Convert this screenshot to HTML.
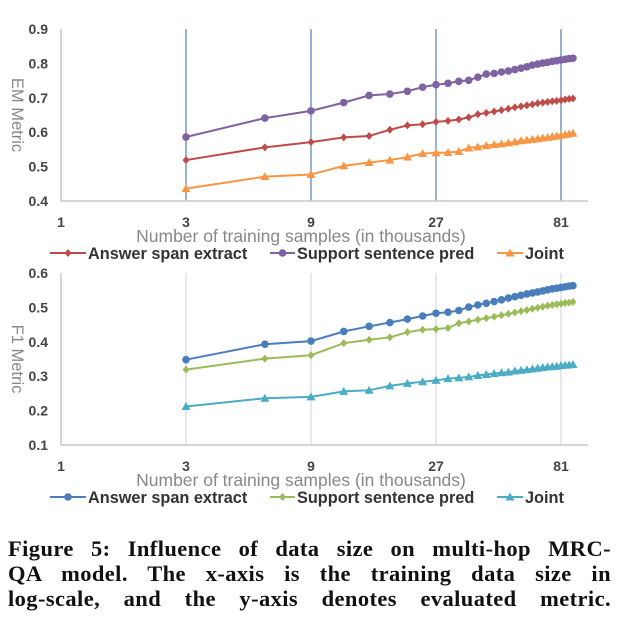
<!DOCTYPE html>
<html><head><meta charset="utf-8"><style>
body{margin:0;background:#fff;width:620px;height:625px;overflow:hidden}
svg{position:absolute;left:0;top:0}
.cap{position:absolute;left:8px;width:603px;font-family:"Liberation Serif",serif;font-weight:bold;font-size:22.5px;line-height:25px;text-align:justify;text-align-last:justify;color:#111;letter-spacing:0.4px}
</style></head><body>
<svg id="chart" width="620" height="525"></svg>
<div class="cap" style="top:536px">Figure 5: Influence of data size on multi-hop MRC-<br>QA model. The x-axis is the training data size in<br>log-scale, and the y-axis denotes evaluated metric.</div>
<script>
const xs=[3,6,9,12,15,18,21,24,27,30,33,36,39,42,45,48,51,54,57,60,63,66,69,72,75,78,81,84,87,90];
const xTicks=[1,3,9,27,81];
const emAnswer=[0.519,0.556,0.571,0.585,0.589,0.607,0.620,0.623,0.630,0.633,0.637,0.643,0.652,0.656,0.660,0.664,0.668,0.672,0.675,0.678,0.681,0.684,0.686,0.688,0.690,0.691,0.693,0.695,0.697,0.698];
const emSupport=[0.586,0.641,0.662,0.686,0.707,0.711,0.719,0.731,0.738,0.742,0.748,0.751,0.760,0.769,0.771,0.775,0.778,0.782,0.786,0.790,0.795,0.798,0.801,0.803,0.806,0.808,0.810,0.812,0.814,0.815];
const emJoint=[0.436,0.471,0.477,0.502,0.512,0.519,0.528,0.538,0.540,0.541,0.544,0.554,0.557,0.561,0.564,0.566,0.569,0.572,0.575,0.577,0.579,0.581,0.583,0.585,0.587,0.589,0.591,0.593,0.595,0.597];
const f1Answer=[0.348,0.393,0.402,0.430,0.445,0.456,0.466,0.475,0.483,0.486,0.491,0.501,0.507,0.512,0.517,0.522,0.527,0.531,0.535,0.539,0.542,0.545,0.548,0.551,0.554,0.556,0.558,0.560,0.562,0.563];
const f1Support=[0.319,0.351,0.361,0.396,0.406,0.413,0.428,0.435,0.437,0.440,0.454,0.459,0.464,0.469,0.473,0.477,0.481,0.485,0.489,0.492,0.496,0.499,0.502,0.505,0.507,0.509,0.511,0.513,0.514,0.516];
const f1Joint=[0.212,0.236,0.240,0.256,0.259,0.272,0.279,0.284,0.288,0.293,0.295,0.298,0.302,0.305,0.308,0.310,0.312,0.315,0.317,0.319,0.321,0.323,0.325,0.327,0.328,0.329,0.331,0.332,0.333,0.334];
const emYTicks=[0.4,0.5,0.6,0.7,0.8,0.9];
const f1YTicks=[0.1,0.2,0.3,0.4,0.5,0.6];
const svg=document.getElementById('chart');
const NS='http://www.w3.org/2000/svg';
function mk(t,a,p){const e=document.createElementNS(NS,t);for(const k in a)e.setAttribute(k,a[k]);(p||svg).appendChild(e);return e;}
const xPix=v=>61+125*Math.log(v)/Math.log(3);
function marker(kind,x,y,c,g){
 if(kind==='circle')return mk('circle',{cx:x,cy:y,r:3.8,fill:c},g);
 if(kind==='diamond')return mk('polygon',{points:`${x},${y-4} ${x+3.5},${y} ${x},${y+4} ${x-3.5},${y}`,fill:c},g);
 return mk('polygon',{points:`${x},${y-4.5} ${x+4.5},${y+3.5} ${x-4.5},${y+3.5}`,fill:c},g);
}
function panel(o){
 const yPix=v=>o.yBot-(v-o.yMin)/(o.yMax-o.yMin)*(o.yBot-o.yTop);
 const g=mk('g',{});
 
 
 xTicks.slice(1).forEach(t=>{const l=mk('line',{x1:xPix(t),x2:xPix(t),y1:o.yTop,y2:o.yBot,stroke:o.grid,'stroke-width':1.2},g);
  
  });
 mk('line',{x1:61,x2:588,y1:o.yBot,y2:o.yBot,stroke:'#c8c8c8','stroke-width':1.5},g);
 mk('line',{x1:61,x2:61,y1:o.yTop,y2:o.yBot,stroke:'#c8c8c8','stroke-width':1.5},g);
 o.yTicks.forEach(t=>{const tx=mk('text',{x:48,y:yPix(t)+5,'text-anchor':'end','font-family':'Liberation Sans,sans-serif','font-size':14,'font-weight':'bold',fill:'#444'},g);tx.textContent=t.toFixed(1);
  
  });
 xTicks.forEach(t=>{const tx=mk('text',{x:xPix(t),y:o.yBot+26,'text-anchor':'middle','font-family':'Liberation Sans,sans-serif','font-size':14,'font-weight':'bold',fill:'#444'},g);tx.textContent=t;
  
  });
 const xt=mk('text',{x:301,y:o.yBot+41,'text-anchor':'middle','font-family':'Liberation Sans,sans-serif','font-size':17.5,fill:'#888'},g);xt.textContent='Number of training samples (in thousands)';
 
 
 const yc=(o.yTop+o.yBot)/2;
 const yt=mk('text',{x:0,y:0,transform:`translate(12,${yc}) rotate(90)`,'text-anchor':'middle','font-family':'Liberation Sans,sans-serif','font-size':16.5,fill:'#888'},g);yt.textContent=o.yTitle;
 
 
 o.series.forEach(s=>{
  const sg=mk('g',{},g);
  
  
  mk('polyline',{points:xs.map((x,i)=>xPix(x)+','+yPix(s.vals[i])).join(' '),fill:'none',stroke:s.c,'stroke-width':2},sg);
  xs.forEach((x,i)=>{const m=marker(s.m,xPix(x),yPix(s.vals[i]),s.c,sg);
   
   });
 });
 const ly=o.yBot+58;
 const lx=[[50,88],[270,297],[497,525]];
 o.series.forEach((s,i)=>{
  const lg=mk('g',{},g);
  
  
  mk('line',{x1:lx[i][0],x2:lx[i][1]-2,y1:ly-6,y2:ly-6,stroke:s.c,'stroke-width':2},lg);
  marker(s.m,(lx[i][0]+lx[i][1]-2)/2,ly-6,s.c,lg);
  const t=mk('text',{x:lx[i][1],y:ly,'font-family':'Liberation Sans,sans-serif','font-size':16.3,'font-weight':'bold',fill:'#333'},lg);t.textContent=s.label;
 });
}
panel({name:'em-chart',yTop:29,yBot:201,yMin:0.4,yMax:0.9,yTicks:emYTicks,grid:'#4f81b0',yTitle:'EM Metric',
 series:[{key:'answer-span',label:'Answer span extract',vals:emAnswer,c:'#be4b48',m:'diamond'},
 {key:'support-sentence',label:'Support sentence pred',vals:emSupport,c:'#7e62a1',m:'circle'},
 {key:'joint',label:'Joint',vals:emJoint,c:'#f79646',m:'tri'}]});
panel({name:'f1-chart',yTop:273,yBot:445,yMin:0.1,yMax:0.6,yTicks:f1YTicks,grid:'#d9d9d9',yTitle:'F1 Metric',
 series:[{key:'answer-span',label:'Answer span extract',vals:f1Answer,c:'#4a7ebb',m:'circle'},
 {key:'support-sentence',label:'Support sentence pred',vals:f1Support,c:'#9bbb59',m:'diamond'},
 {key:'joint',label:'Joint',vals:f1Joint,c:'#4bacc6',m:'tri'}]});
</script>
</body></html>
